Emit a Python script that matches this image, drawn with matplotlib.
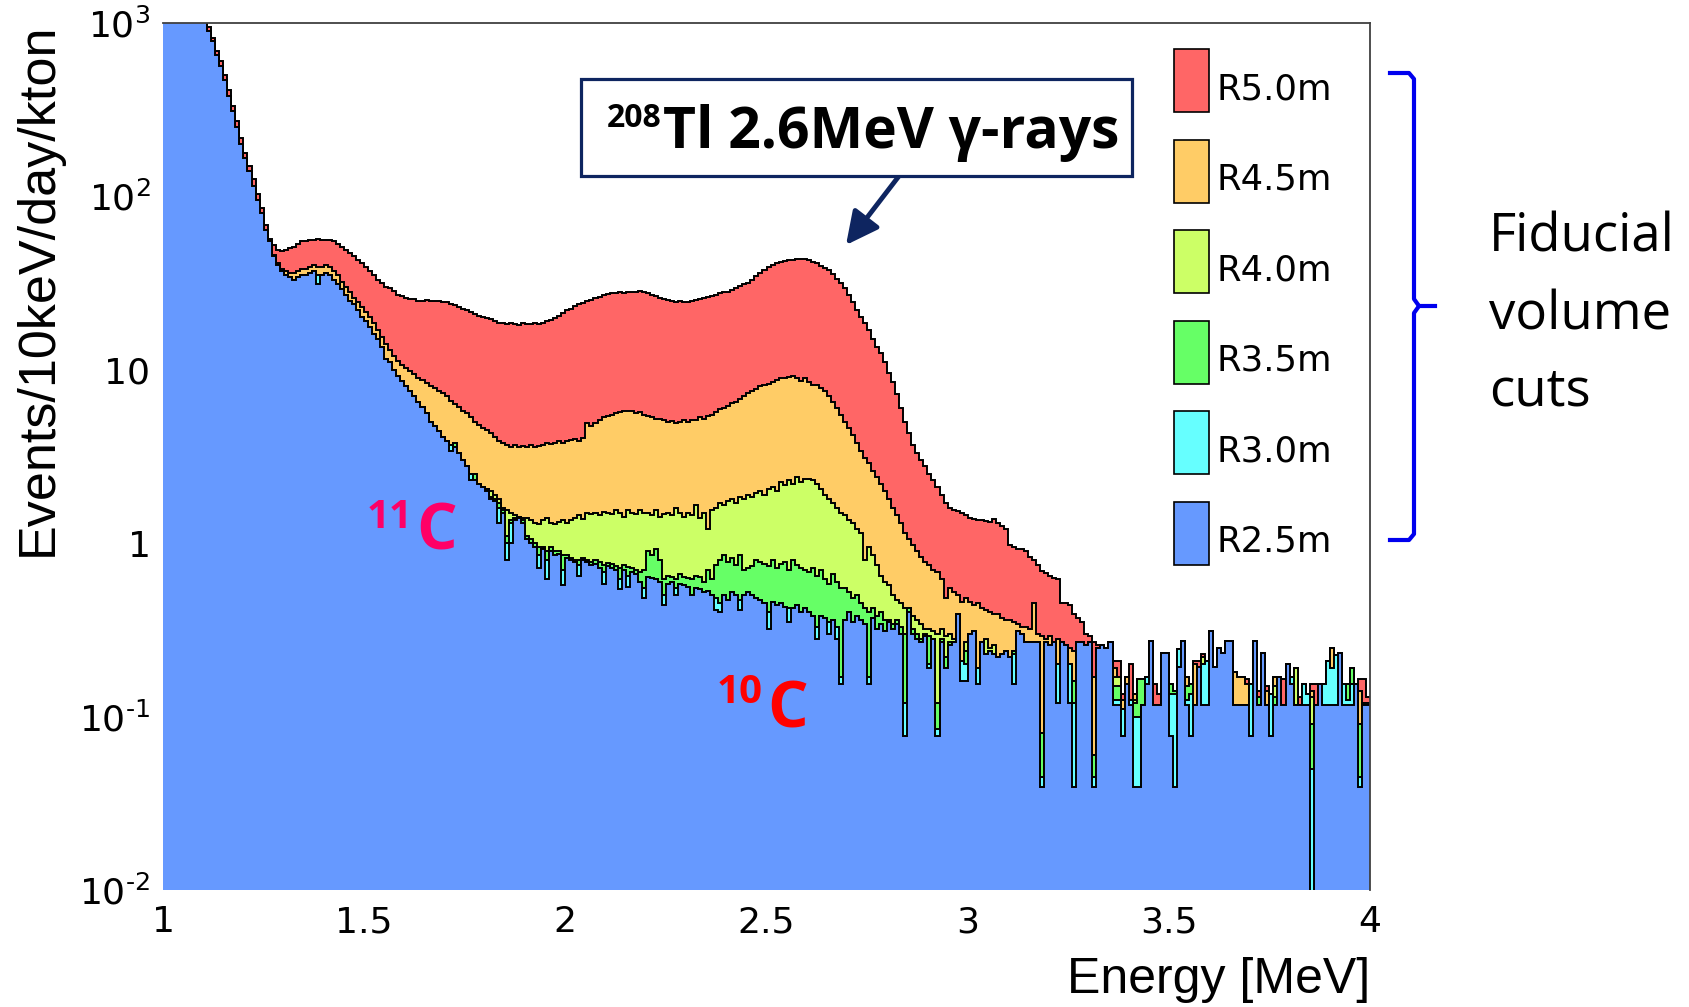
import numpy as np
import matplotlib.pyplot as plt
from matplotlib.patches import Rectangle
from matplotlib.lines import Line2D

plt.rcParams['mathtext.fontset'] = 'dejavusans'

# ------------------------------------------------------------
# spectra, 10 keV bins from 1.00 to 4.00 MeV  [events/10keV/day/kton]
# inner volume R2.5m is listed in full; for the outer cuts a 0 means
# "no extra events over the next inner volume" (volumes are nested)
# ------------------------------------------------------------

energy_edges = np.round(np.linspace(1.0, 4.0, 301), 2)

r25 = [
    4200, 3700, 3300, 2900, 2600, 2300, 2000, 1750, 1500, 1300,
    1050, 900, 780, 650, 560, 470, 380, 310, 250, 200,
    165, 140, 115, 95, 80, 64, 55, 45, 40, 37,
    35, 34, 33, 34, 35, 35, 36, 37, 31, 35,
    36, 35, 33, 31, 29, 27, 25, 24, 22, 20,
    19, 17.5, 16, 15, 13.5, 11.5, 11, 10, 9.2, 8.6,
    8.0, 7.5, 7.0, 6.5, 6.1, 5.6, 5.0, 4.7, 4.4, 4.1,
    3.9, 3.4, 3.6, 3.3, 3.0, 2.8, 2.3, 2.3, 2.2, 2.1,
    2.0, 1.8, 1.75, 1.3, 1.5, 0.8, 1.0, 1.35, 1.4, 1.3,
    1.05, 1.0, 0.95, 0.72, 0.92, 0.62, 0.9, 0.85, 0.86, 0.57,
    0.82, 0.8, 0.78, 0.65, 0.8, 0.78, 0.75, 0.76, 0.72, 0.58,
    0.74, 0.72, 0.7, 0.54, 0.7, 0.56, 0.68, 0.66, 0.6, 0.48,
    0.64, 0.63, 0.62, 0.6, 0.44, 0.58, 0.6, 0.5, 0.58, 0.57,
    0.56, 0.5, 0.55, 0.54, 0.52, 0.53, 0.5, 0.41, 0.4, 0.5,
    0.47, 0.52, 0.5, 0.41, 0.5, 0.52, 0.5, 0.48, 0.47, 0.45,
    0.32, 0.46, 0.44, 0.45, 0.43, 0.35, 0.42, 0.44, 0.4, 0.42,
    0.4, 0.38, 0.28, 0.38, 0.37, 0.3, 0.36, 0.28, 0.155, 0.36,
    0.4, 0.35, 0.38, 0.36, 0.34, 0.155, 0.37, 0.32, 0.34, 0.31,
    0.35, 0.32, 0.34, 0.3, 0.077, 0.4, 0.3, 0.28, 0.27, 0.29,
    0.19, 0.28, 0.077, 0.27, 0.19, 0.26, 0.27, 0.39, 0.16, 0.16,
    0.3, 0.31, 0.155, 0.27, 0.23, 0.24, 0.23, 0.22, 0.23, 0.24,
    0.22, 0.155, 0.31, 0.3, 0.27, 0.27, 0.27, 0.27, 0.039, 0.27,
    0.26, 0.27, 0.12, 0.27, 0.26, 0.12, 0.039, 0.27, 0.27, 0.26,
    0.27, 0.039, 0.25, 0.26, 0.25, 0.27, 0.116, 0.116, 0.077, 0.155,
    0.116, 0.039, 0.039, 0.116, 0.155, 0.271, 0.116, 0.116, 0.232, 0.232,
    0.077, 0.039, 0.194, 0.271, 0.116, 0.077, 0.116, 0.194, 0.116, 0.116,
    0.31, 0.194, 0.25, 0.232, 0.271, 0.271, 0.116, 0.116, 0.116, 0.116,
    0.077, 0.271, 0.116, 0.232, 0.116, 0.077, 0.116, 0.17, 0.116, 0.2,
    0.155, 0.116, 0.116, 0.116, 0.116, 0, 0.116, 0.155, 0.116, 0.116,
    0.116, 0.116, 0.232, 0.116, 0.116, 0.116, 0.155, 0.039, 0.116, 0.116,
]

r30 = [
    0, 0, 0, 0, 0, 0, 0, 0, 0, 0,
    0, 0, 0, 0, 0, 0, 0, 0, 0, 0,
    0, 0, 0, 0, 0, 0, 0, 0, 0, 0,
    0, 0, 0, 0, 0, 0, 0, 0, 35, 0,
    0, 0, 0, 0, 0, 0, 0, 0, 0, 0,
    0, 0, 0, 0, 0, 0, 0, 0, 0, 0,
    0, 0, 0, 0, 0, 0, 0, 0, 0, 0,
    0, 3.7, 0, 0, 0, 0, 2.5, 0, 0, 0,
    0, 0, 0, 1.6, 0, 1.0, 1.3, 0, 0, 0,
    0, 0, 0, 0.85, 0, 0.8, 0, 0, 0, 0.7,
    0, 0, 0, 0.75, 0, 0, 0, 0, 0, 0.68,
    0, 0, 0, 0.62, 0, 0.65, 0, 0, 0, 0.55,
    0, 0, 0, 0, 0.5, 0, 0, 0.55, 0, 0,
    0, 0, 0, 0, 0, 0, 0, 0.48, 0.45, 0,
    0, 0, 0, 0.47, 0, 0, 0, 0, 0, 0,
    0.4, 0, 0, 0, 0, 0.42, 0, 0, 0, 0,
    0, 0, 0.33, 0, 0, 0.35, 0, 0.33, 0.17, 0,
    0, 0, 0, 0, 0, 0.17, 0, 0, 0, 0,
    0, 0, 0, 0, 0.12, 0, 0, 0, 0, 0,
    0.2, 0, 0.085, 0, 0, 0, 0, 0, 0.21, 0.2,
    0, 0, 0.19, 0, 0, 0, 0, 0, 0, 0,
    0, 0.23, 0, 0, 0, 0, 0, 0, 0.045, 0,
    0, 0, 0.2, 0, 0, 0.2, 0.12, 0, 0, 0,
    0, 0.045, 0, 0, 0, 0, 0.125, 0.125, 0.11, 0,
    0.125, 0.1, 0.1, 0, 0.17, 0, 0, 0, 0, 0,
    0.135, 0.135, 0.245, 0, 0.125, 0.135, 0, 0, 0.2, 0.21,
    0, 0, 0, 0, 0, 0, 0, 0, 0, 0,
    0.155, 0, 0, 0, 0, 0.135, 0, 0, 0, 0,
    0.17, 0, 0, 0.155, 0.135, 0.05, 0, 0, 0.155, 0.21,
    0.19, 0.227, 0, 0.155, 0.125, 0.155, 0, 0.045, 0, 0,
]

r35 = [
    0, 0, 0, 0, 0, 0, 0, 0, 0, 0,
    0, 0, 0, 0, 0, 0, 0, 0, 0, 0,
    0, 0, 0, 0, 0, 0, 0, 0, 0, 0,
    0, 0, 0, 0, 0, 0, 0, 0, 0, 0,
    0, 0, 0, 0, 0, 0, 0, 0, 0, 0,
    0, 0, 0, 0, 0, 0, 0, 0, 0, 0,
    0, 0, 0, 0, 0, 0, 0, 0, 0, 0,
    0, 0, 3.8, 0, 0, 0, 0, 2.5, 0, 0,
    2.05, 1.85, 1.8, 1.7, 1.55, 1.1, 1.35, 1.4, 1.42, 1.35,
    1.1, 1.05, 1.0, 0.95, 0.95, 0.9, 0.95, 0.9, 0.9, 0.85,
    0.85, 0.82, 0.8, 0.8, 0.82, 0.8, 0.78, 0.8, 0.78, 0.75,
    0.77, 0.76, 0.74, 0.72, 0.75, 0.73, 0.72, 0.7, 0.68, 0.7,
    0.9, 0.85, 0.92, 0.8, 0.62, 0.65, 0.64, 0.62, 0.66, 0.64,
    0.63, 0.62, 0.65, 0.64, 0.6, 0.7, 0.62, 0.75, 0.8, 0.85,
    0.78, 0.82, 0.75, 0.85, 0.7, 0.72, 0.74, 0.8, 0.78, 0.76,
    0.74, 0.8, 0.72, 0.76, 0.78, 0.7, 0.8, 0.75, 0.72, 0.7,
    0.68, 0.72, 0.65, 0.7, 0.62, 0.58, 0.66, 0.6, 0.55, 0.55,
    0.52, 0.48, 0.5, 0.45, 0.42, 0.4, 0.42, 0.38, 0.4, 0.36,
    0.36, 0.34, 0.36, 0.33, 0.3, 0.42, 0.32, 0.3, 0.28, 0.3,
    0.29, 0.2, 0.12, 0.28, 0.22, 0.27, 0, 0.26, 0, 0.24,
    0.24, 0, 0, 0.22, 0, 0.24, 0, 0, 0.23, 0,
    0, 0.24, 0, 0.2, 0, 0, 0, 0, 0.08, 0,
    0, 0, 0, 0, 0, 0, 0.16, 0, 0, 0,
    0, 0.06, 0, 0, 0, 0, 0.15, 0.15, 0, 0,
    0, 0.12, 0.165, 0.165, 0, 0, 0, 0, 0, 0,
    0.155, 0.14, 0, 0, 0.15, 0.155, 0, 0, 0, 0,
    0, 0, 0, 0, 0, 0, 0, 0, 0, 0,
    0, 0, 0.13, 0, 0, 0, 0.13, 0, 0, 0,
    0, 0, 0, 0, 0, 0.09, 0, 0, 0, 0,
    0, 0, 0, 0, 0.155, 0.19, 0, 0.09, 0.12, 0.12,
]

r40 = [
    0, 0, 0, 0, 0, 0, 0, 0, 0, 0,
    0, 0, 0, 0, 0, 0, 0, 0, 0, 0,
    0, 0, 0, 0, 0, 0, 0, 0, 0, 0,
    0, 0, 0, 0, 0, 0, 0, 0, 0, 0,
    0, 0, 0, 0, 0, 0, 0, 0, 0, 0,
    0, 0, 0, 0, 0, 0, 0, 0, 0, 0,
    0, 0, 0, 0, 0, 0, 0, 0, 0, 0,
    0, 0, 0, 0, 0, 0, 0, 0, 0, 0,
    0, 2.0, 1.9, 1.8, 1.6, 1.55, 1.5, 1.45, 1.42, 1.4,
    1.4, 1.35, 1.3, 1.28, 1.35, 1.4, 1.3, 1.28, 1.32, 1.35,
    1.3, 1.35, 1.4, 1.45, 1.38, 1.5, 1.48, 1.5, 1.45, 1.52,
    1.5, 1.48, 1.55, 1.5, 1.42, 1.55, 1.5, 1.48, 1.55, 1.5,
    1.5, 1.45, 1.55, 1.42, 1.48, 1.5, 1.45, 1.6, 1.5, 1.42,
    1.5, 1.45, 1.65, 1.4, 1.5, 1.2, 1.55, 1.6, 1.7, 1.65,
    1.75, 1.8, 1.7, 1.85, 1.8, 1.9, 1.85, 1.95, 2.0, 1.9,
    2.05, 2.1, 2.0, 2.25, 2.15, 2.3, 2.2, 2.4, 2.25, 2.35,
    2.35, 2.3, 2.2, 2.05, 1.9, 1.8, 1.7, 1.6, 1.5, 1.45,
    1.35, 1.3, 1.2, 1.15, 0.8, 0.95, 0.85, 0.75, 0.65, 0.6,
    0.57, 0.5, 0.47, 0.45, 0.42, 0.42, 0.38, 0.36, 0.34, 0.32,
    0.32, 0.31, 0.3, 0.32, 0.29, 0.3, 0.28, 0.3, 0, 0.27,
    0.3, 0.31, 0, 0.27, 0.28, 0.25, 0.26, 0, 0, 0.24,
    0, 0, 0, 0, 0, 0, 0, 0, 0, 0,
    0, 0, 0, 0, 0, 0, 0, 0, 0, 0,
    0, 0, 0, 0, 0, 0, 0.17, 0.17, 0, 0,
    0, 0.125, 0, 0, 0, 0, 0, 0, 0, 0,
    0, 0, 0, 0, 0, 0, 0, 0, 0.22, 0,
    0, 0, 0, 0, 0, 0, 0, 0, 0, 0,
    0, 0, 0, 0, 0, 0, 0.15, 0, 0, 0,
    0, 0.19, 0, 0, 0, 0.13, 0, 0, 0, 0,
    0, 0, 0, 0, 0, 0, 0, 0.09, 0, 0,
]

r45 = [
    0, 0, 0, 0, 0, 0, 0, 0, 0, 0,
    0, 0, 0, 0, 0, 0, 0, 0, 0, 0,
    0, 0, 0, 0, 0, 0, 0, 46, 41, 38,
    37, 36, 36, 37, 38, 38, 39, 40, 39, 39,
    40, 39, 37, 35, 32, 30, 28, 26, 24.5, 23,
    21.5, 20, 18.5, 17, 15.5, 14, 13, 12, 11.2, 10.6,
    10.2, 9.8, 9.4, 9.0, 8.7, 8.4, 8.0, 7.8, 7.5, 7.3,
    7.0, 6.6, 6.3, 6.1, 5.8, 5.6, 5.3, 5.0, 4.8, 4.6,
    4.5, 4.3, 4.1, 3.9, 3.8, 3.7, 3.6, 3.7, 3.6, 3.65,
    3.6, 3.7, 3.6, 3.65, 3.7, 3.8, 3.75, 3.8, 3.9, 3.8,
    3.9, 3.95, 4.0, 3.9, 4.05, 4.9, 4.7, 4.9, 5.1, 5.3,
    5.4, 5.5, 5.6, 5.7, 5.8, 5.75, 5.8, 5.6, 5.7, 5.5,
    5.4, 5.3, 5.2, 5.2, 5.1, 5.0, 5.05, 4.95, 5.0, 5.1,
    5.0, 5.1, 5.15, 5.3, 5.2, 5.4, 5.5, 5.7, 5.9, 6.0,
    6.2, 6.4, 6.5, 6.8, 7.0, 7.3, 7.5, 7.7, 8.0, 8.2,
    8.3, 8.5, 8.7, 8.9, 9.0, 9.1, 9.2, 9.0, 8.6, 8.9,
    8.5, 8.1, 8.2, 7.8, 7.5, 7.0, 6.5, 6.0, 5.5, 5.0,
    4.6, 4.2, 3.8, 3.4, 3.1, 2.9, 2.6, 2.4, 2.2, 2.0,
    1.8, 1.6, 1.45, 1.3, 1.15, 1.05, 0.98, 0.9, 0.83, 0.78,
    0.75, 0.7, 0.68, 0.62, 0.48, 0.55, 0.52, 0.5, 0.46, 0.48,
    0.46, 0.44, 0.45, 0.42, 0.41, 0.4, 0.39, 0.39, 0.37, 0.36,
    0.36, 0.35, 0.34, 0.33, 0.33, 0.32, 0.45, 0.3, 0.29, 0.28,
    0.29, 0.27, 0.28, 0.27, 0.26, 0.25, 0.24, 0.2, 0.23, 0.2,
    0.19, 0.17, 0.15, 0.16, 0.19, 0.14, 0.19, 0.14, 0.125, 0.17,
    0, 0.135, 0, 0, 0, 0, 0, 0, 0, 0,
    0, 0, 0, 0, 0.17, 0, 0.2, 0, 0, 0,
    0, 0, 0, 0, 0, 0, 0.18, 0.17, 0.17, 0.155,
    0, 0, 0, 0, 0.14, 0, 0.17, 0, 0, 0,
    0, 0, 0, 0, 0, 0.14, 0, 0, 0, 0,
    0.25, 0, 0, 0, 0, 0, 0, 0.14, 0, 0,
]

r50 = [
    0, 0, 0, 0, 0, 0, 0, 0, 0, 0,
    0, 950, 820, 690, 600, 500, 410, 330, 270, 215,
    178, 150, 125, 103, 86, 68, 57, 52, 49, 48,
    49, 50, 51, 53, 55, 55, 56, 56, 57, 56,
    56, 56, 55, 53, 51, 49, 47, 45, 43, 41,
    39, 37, 35, 33, 31.5, 30, 29.5, 28.5, 27, 26.5,
    26, 25.5, 25.5, 25, 25, 25.2, 25, 24.8, 25, 24.5,
    24.5, 24, 23.5, 23, 22.5, 22, 21.5, 21, 20.5, 20,
    19.8, 19.5, 19, 18.6, 18.5, 18.3, 18.5, 18.3, 18.2, 18.5,
    18.4, 18.3, 18.5, 18.4, 18.6, 19, 19.4, 19.8, 20.5, 21.3,
    22, 22.5, 23.2, 24, 24.3, 24.8, 25.3, 25.8, 26.3, 27,
    27.3, 27.6, 27.8, 28, 27.8, 28.2, 27.9, 28, 28.3, 28,
    27.5, 27, 26.5, 26, 25.5, 25.2, 24.8, 24.6, 24.8, 24.6,
    24.7, 24.8, 25.2, 25.5, 25.8, 26.2, 26.6, 27, 27.5, 28.2,
    28.2, 28.8, 29.5, 30.2, 31, 31.7, 33, 34.5, 36, 37.5,
    38.8, 40, 41, 41.8, 42.3, 42.6, 43, 43.3, 43.5, 43.2,
    43, 42, 41, 39.5, 38.5, 37.5, 35.5, 33.5, 31.5, 29.5,
    27, 24.5, 22, 20, 18.5, 17, 15, 13.5, 12.5, 11,
    9.6, 8.5, 7.2, 6.0, 5.0, 4.3, 3.7, 3.3, 3.0, 2.8,
    2.5, 2.3, 2.1, 1.9, 1.7, 1.6, 1.55, 1.53, 1.5, 1.45,
    1.4, 1.37, 1.35, 1.36, 1.34, 1.33, 1.37, 1.3, 1.25, 1.2,
    0.97, 0.95, 0.93, 0.92, 0.9, 0.83, 0.8, 0.75, 0.69, 0.67,
    0.65, 0.63, 0.62, 0.45, 0.45, 0.44, 0.39, 0.37, 0.35, 0.3,
    0.29, 0.27, 0.26, 0.234, 0.23, 0.22, 0.21, 0.21, 0.135, 0.165,
    0.2, 0, 0, 0, 0, 0, 0.155, 0.135, 0, 0,
    0, 0, 0, 0, 0, 0, 0.21, 0.21, 0.23, 0,
    0, 0, 0, 0, 0, 0, 0, 0, 0, 0.165,
    0, 0, 0.14, 0, 0.15, 0, 0, 0, 0.165, 0,
    0, 0.19, 0.13, 0, 0, 0.155, 0.155, 0, 0, 0,
    0, 0, 0, 0, 0, 0, 0, 0.165, 0.165, 0.13,
]

labels = ["R5.0m", "R4.5m", "R4.0m", "R3.5m", "R3.0m", "R2.5m"]
colors = ["#FF6666", "#FFCC66", "#CCFF66", "#66FF66", "#66FFFF", "#6699FF"]

# cumulate the nested volumes
h25 = np.array(r25, dtype=float)
h30 = np.maximum(h25, r30)
h35 = np.maximum(h30, r35)
h40 = np.maximum(h35, r40)
h45 = np.maximum(h40, r45)
h50 = np.maximum(h45, r50)
hists = [h50, h45, h40, h35, h30, h25]

# ------------------------------------------------------------
# figure
# ------------------------------------------------------------
W, H = 1689, 1007


def fpx(x, y):
    # pixel position (from top-left) -> figure fraction
    return x / W, 1 - y / H


fig = plt.figure(figsize=(W / 100, H / 100), dpi=100)
ax = fig.add_axes([163 / W, 1 - 890 / H, (1370 - 163) / W, (890 - 22.7) / H])

floor = 1e-3
for k, (vals, col) in enumerate(zip(hists, colors)):
    v = np.clip(vals, floor, None)
    ax.stairs(v, energy_edges, baseline=floor, fill=True, color=col,
              lw=0, zorder=3 + k)
    ax.stairs(v, energy_edges, baseline=None, color="black", lw=1.4,
              zorder=3.5 + k)

ax.set_yscale("log")
ax.set_xlim(1, 4)
ax.set_ylim(1e-2, 1e3)

ax.set_xticks([1, 1.5, 2, 2.5, 3, 3.5, 4])
ax.set_xticklabels(["1", "1.5", "2", "2.5", "3", "3.5", "4"])
ax.set_yticks([1e-2, 1e-1, 1, 10, 1e2, 1e3])
ax.set_yticklabels([r"$10^{‐2}$", r"$10^{‐1}$", "1", "10",
                    r"$10^{2}$", r"$10^{3}$"])
ax.yaxis.set_minor_locator(plt.NullLocator())
ax.tick_params(axis="both", length=0, labelsize=26)
ax.tick_params(axis="x", pad=11)
ax.tick_params(axis="y", pad=9)

for side in ["left", "bottom"]:
    ax.spines[side].set_visible(False)
for side in ["top", "right"]:
    ax.spines[side].set_color("#404040")
    ax.spines[side].set_linewidth(1.3)
    ax.spines[side].set_zorder(20)

# legend boxes inside the frame, top right
for i, (lab, col) in enumerate(zip(labels, colors)):
    top = 49 + 90.6 * i
    fig.add_artist(Rectangle(fpx(1174, top + 63), 35 / W, 63 / H,
                             transform=fig.transFigure, facecolor=col,
                             edgecolor="black", lw=1.2, zorder=4))
    fig.text(*fpx(1217, top + 50), lab, fontsize=25.5, va="baseline",
             zorder=4)

# axis titles
fig.text(*fpx(38, 289), "Events/10keV/day/kton", rotation=90,
         ha="center", va="center", fontsize=37.5, family="Liberation Sans")
fig.text(*fpx(1370, 993), "Energy [MeV]", ha="right", va="baseline",
         fontsize=36, family="Liberation Sans")

# 208Tl annotation box with arrow
navy = "#0E2560"
fig.add_artist(Rectangle(fpx(581, 176), (1132 - 581) / W, (176 - 78.6) / H,
                         transform=fig.transFigure, facecolor="white",
                         edgecolor=navy, lw=2.3, zorder=5))
txt_font = ["Open Sans", "DejaVu Sans"]
fig.text(*fpx(662, 127), "208", fontsize=23, fontweight="bold",
         family=txt_font, ha="right", va="baseline", zorder=6)
fig.text(*fpx(663, 148), "Tl 2.6MeV γ-rays", fontsize=41, fontweight="bold",
         family=txt_font, va="baseline", zorder=6)
ax.annotate("", xy=fpx(846, 245), xytext=fpx(899, 176),
            xycoords="figure fraction", textcoords="figure fraction",
            arrowprops=dict(arrowstyle="-|>,head_length=0.9,head_width=0.45",
                            color=navy, lw=3.5, shrinkA=0, shrinkB=0,
                            mutation_scale=22),
            zorder=25)

# isotope labels
fig.text(*fpx(413, 528), "11", fontsize=29, fontweight="bold",
         family=txt_font, color="#FF0066", ha="right", va="baseline", zorder=6)
fig.text(*fpx(416, 549), "C", fontsize=46, fontweight="bold",
         family=txt_font, color="#FF0066", va="baseline", zorder=6)
fig.text(*fpx(763, 703), "10", fontsize=29, fontweight="bold",
         family=txt_font, color="#FF0000", ha="right", va="baseline", zorder=6)
fig.text(*fpx(767, 728), "C", fontsize=46, fontweight="bold",
         family=txt_font, color="#FF0000", va="baseline", zorder=6)

# bracket grouping the radius cuts
brace_col = "#0000EE"
top_half = [(1390, 73), (1409, 73), (1414, 79), (1414, 299), (1419, 306),
            (1435, 306)]
bot_half = [(1419, 306), (1414, 313), (1414, 534), (1409, 540), (1390, 540)]
for pts in (top_half, bot_half):
    xs, ys = zip(*[fpx(x, y) for x, y in pts])
    fig.add_artist(Line2D(xs, ys, transform=fig.transFigure, color=brace_col,
                          lw=3, solid_joinstyle="round"))

for word, yb in [("Fiducial", 251), ("volume", 329), ("cuts", 406)]:
    fig.text(*fpx(1489, yb), word, fontsize=38, family=txt_font,
             va="baseline")

fig.savefig("out.png", dpi=100)
